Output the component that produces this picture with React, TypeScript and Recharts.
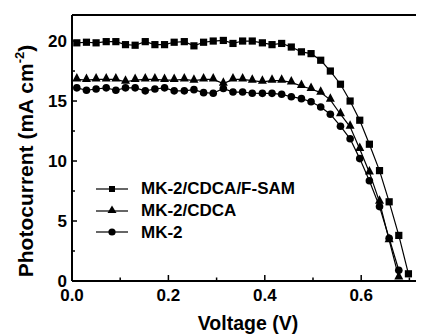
import React from "react";
import { LineChart, Line, XAxis, YAxis, ReferenceLine } from "recharts";

const voltage = [
  0.01, 0.03, 0.05, 0.071, 0.091, 0.111, 0.131, 0.152, 0.172, 0.192, 0.212, 0.233,
  0.253, 0.273, 0.293, 0.314, 0.334, 0.354, 0.374, 0.395, 0.415, 0.435, 0.455, 0.476,
  0.496, 0.516, 0.536, 0.557, 0.577, 0.597, 0.617, 0.638, 0.658, 0.678, 0.698,
];
const fsam = [
  19.85, 19.9, 19.85, 19.95, 19.95, 19.7, 19.65, 19.95, 19.7, 19.7, 19.9, 19.95, 19.6,
  19.9, 20.0, 20.05, 19.8, 20.0, 20.0, 19.85, 19.7, 19.8, 19.5, 19.1, 18.95, 18.4, 17.5,
  16.4, 15.0, 13.4, 11.4, 9.2, 6.6, 3.8, 0.6,
];
const cdca = [
  16.8, 16.75, 16.8, 16.8, 16.8, 16.6, 16.75, 16.8, 16.8, 16.75, 16.75, 16.8, 16.7, 16.8,
  16.8, 16.45, 16.8, 16.8, 16.7, 16.6, 16.7, 16.7, 16.55, 16.25, 16.0, 15.7, 15.1, 13.9,
  12.85, 11.0, 9.05, 6.6, 3.4, 0.3,
];
const mk2 = [
  16.1, 15.9, 16.0, 16.1, 15.9, 16.1, 16.1, 15.85, 16.0, 16.1, 15.85, 15.85, 15.95, 15.7,
  15.65, 16.05, 15.75, 15.75, 15.65, 15.64, 15.64, 15.56, 15.36, 15.2, 14.94, 14.5, 13.9,
  12.9, 11.85, 10.2, 8.36, 6.2, 3.56, 0.9,
];
const xTicks = [0, 0.1, 0.2, 0.3, 0.4, 0.5, 0.6, 0.7];
const xLabels = ["0.0", "0.2", "0.4", "0.6"];
const yTicks = [0, 2.5, 5, 7.5, 10, 12.5, 15, 17.5, 20];
const yLabels = ["0", "5", "10", "15", "20"];
const xMax = 0.7303;
const yMax = 22.17;

const data = voltage.map((v, i) => ({ v, fsam: fsam[i], cdca: cdca[i], mk2: mk2[i] }));

const FONT = "'Liberation Sans', Arial, sans-serif";

const Square = (p: any) => {
  if (p.cy == null || p.value == null) return <g key={p.key} />;
  return <rect key={p.key} x={p.cx - 3.6} y={p.cy - 3.6} width={7.2} height={7.2} fill="#000" />;
};
const Triangle = (p: any) => {
  if (p.cy == null || p.value == null) return <g key={p.key} />;
  const { cx, cy } = p;
  return <polygon key={p.key} points={`${cx},${cy - 6.5} ${cx - 4.5},${cy + 2} ${cx + 4.5},${cy + 2}`} fill="#000" />;
};
const Circle = (p: any) => {
  if (p.cy == null || p.value == null) return <g key={p.key} />;
  return <circle key={p.key} cx={p.cx} cy={p.cy} r={3.8} fill="#000" />;
};

const XTick = (p: any) => {
  const val = p.payload.value;
  const major = Math.round(val * 10) % 2 === 0 && xLabels.includes(val.toFixed(1));
  return (
    <g>
      <line x1={p.x} x2={p.x} y1={p.y} y2={p.y - (major ? 6 : 3.5)} stroke="#000" strokeWidth={1.5} />
      {major && (
        <text x={p.x} y={p.y + 20} textAnchor="middle" fontFamily={FONT} fontWeight="bold" fontSize={17} fill="#000">
          {val.toFixed(1)}
        </text>
      )}
    </g>
  );
};
const YTick = (p: any) => {
  const val = p.payload.value;
  const major = yLabels.includes(String(val));
  return (
    <g>
      <line x1={p.x} x2={p.x + (major ? 5 : 3)} y1={p.y} y2={p.y} stroke="#000" strokeWidth={1.5} />
      {major && (
        <text x={p.x - 5} y={p.y + 5.5} textAnchor="end" fontFamily={FONT} fontWeight="bold" fontSize={17} fill="#000">
          {val}
        </text>
      )}
    </g>
  );
};

const legendItems = [
  { name: "MK-2/CDCA/F-SAM", shape: "square" },
  { name: "MK-2/CDCA", shape: "triangle" },
  { name: "MK-2", shape: "circle" },
];

function ChartLegend() {
  return (
    <div
      style={{
        position: "absolute",
        left: 88,
        top: 170,
        fontFamily: FONT,
        fontWeight: "bold",
        fontSize: 17,
        lineHeight: "21.8px",
      }}
    >
      {legendItems.map((it) => (
        <div key={it.name} style={{ display: "flex", alignItems: "center", height: 21.8 }}>
          <svg width={32} height={16} style={{ marginRight: 13 }}>
            <line x1={0} x2={32} y1={8} y2={8} stroke="#000" strokeWidth={1.2} />
            {it.shape === "square" && <rect x={13} y={5} width={6} height={6} fill="#000" />}
            {it.shape === "triangle" && <polygon points="16,2.5 11.5,10 20.5,10" fill="#000" />}
            {it.shape === "circle" && <circle cx={16} cy={8} r={3.6} fill="#000" />}
          </svg>
          <span>{it.name}</span>
        </div>
      ))}
    </div>
  );
}

export default function App() {
  return (
    <div style={{ position: "relative", width: 416, height: 328 }}>
      <LineChart width={416} height={328} data={data} margin={{ top: 7, right: 0, bottom: 0, left: 0 }}>
        <XAxis
          dataKey="v"
          type="number"
          domain={[0, xMax]}
          allowDataOverflow
          ticks={xTicks}
          interval={0}
          tickSize={0}
          tickMargin={0}
          height={55}
          axisLine={{ stroke: "#000", strokeWidth: 2 }}
          tickLine={false}
          tick={XTick}
          label={{
            value: "Voltage (V)",
            position: "insideBottom",
            offset: 6,
            style: { fontFamily: FONT, fontWeight: "bold", fontSize: 19.5, fill: "#000" },
          }}
        />
        <YAxis
          type="number"
          domain={[0, yMax]}
          allowDataOverflow
          ticks={yTicks}
          interval={0}
          tickSize={0}
          tickMargin={0}
          width={64}
          axisLine={{ stroke: "#000", strokeWidth: 2 }}
          tickLine={false}
          tick={YTick}
          label={(props: any) => {
            const vb = props.viewBox;
            const cy = vb.y + vb.height / 2 + 13;
            return (
              <text
                x={25}
                y={cy}
                transform={`rotate(-90, 25, ${cy})`}
                textAnchor="middle"
                fontFamily={FONT}
                fontWeight="bold"
                fontSize={21}
                fill="#000"
              >
                Photocurrent (mA cm
                <tspan dy={-9} fontSize={13}>-2</tspan>
                <tspan dy={9}>)</tspan>
              </text>
            );
          }}
        />
        <ReferenceLine y={yMax} stroke="#000" strokeWidth={2} ifOverflow="visible" />
        <Line dataKey="fsam" stroke="#000" strokeWidth={1.2} dot={Square} isAnimationActive={false} />
        <Line dataKey="cdca" stroke="#000" strokeWidth={1.2} dot={Triangle} isAnimationActive={false} />
        <Line dataKey="mk2" stroke="#000" strokeWidth={1.2} dot={Circle} isAnimationActive={false} />
      </LineChart>
      <ChartLegend />
    </div>
  );
}
